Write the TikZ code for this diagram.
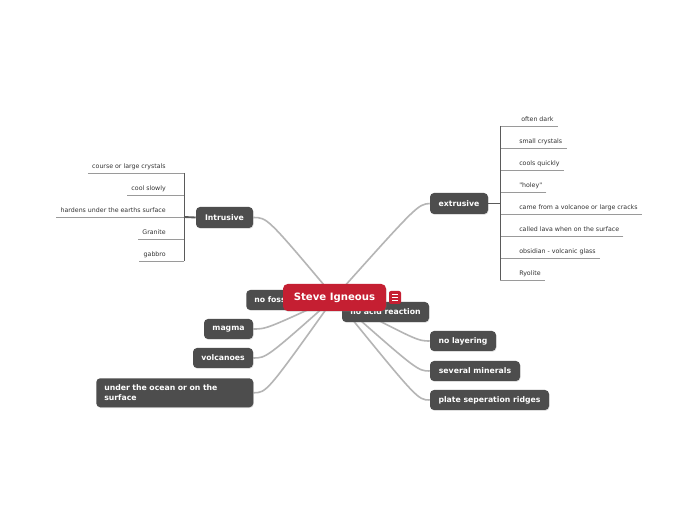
\documentclass[tikz,border=0pt]{standalone}
\usepackage{fontspec}
\newfontfamily\nf{DejaVu Sans}
\usetikzlibrary{calc,shadows}
\pgfdeclarelayer{background}
\pgfsetlayers{background,main}
\definecolor{nodegray}{HTML}{4D4D4D}
\definecolor{rootred}{HTML}{C51F32}
\definecolor{linegray}{HTML}{B5B5B5}
\definecolor{brkcol}{HTML}{5A5A5A}
\definecolor{ulcol}{HTML}{9A9A9A}
\definecolor{subtxt}{HTML}{333333}
\begin{document}
\begin{tikzpicture}[x=0.75pt,y=-0.75pt,
  topic/.style={fill=nodegray, rounded corners=3pt, text=white,
    font=\nf\bfseries\fontsize{5.8}{7.5}\selectfont, minimum height=15pt, inner sep=0pt,
    drop shadow={shadow xshift=0.4pt, shadow yshift=-0.6pt, opacity=0.25}},
  rootnode/.style={fill=rootred, rounded corners=3.5pt, text=white,
    font=\nf\bfseries\fontsize{7.6}{9}\selectfont, inner sep=0pt,
    drop shadow={shadow xshift=0.4pt, shadow yshift=-0.6pt, opacity=0.25}},
  iconbox/.style={fill=rootred, rounded corners=1.5pt, minimum width=9pt, minimum height=9.75pt, inner sep=0pt},
  subitem/.style={font=\nf\fontsize{4.7}{5.5}\selectfont, text=subtxt, text height=3.6pt, text depth=1pt, inner xsep=3pt, inner ysep=2pt},
  conn/.style={draw=linegray, line width=1.2pt},
  brk/.style={draw=brkcol, line width=0.75pt},
  brkthick/.style={draw=brkcol, line width=1.4pt},
  ul/.style={draw=ulcol, line width=0.6pt}
]
\begin{pgfonlayer}{background}
\fill[white] (0,0) rectangle (697,520);
\end{pgfonlayer}
\useasboundingbox (0,0) rectangle (697,520);

% main topic nodes
\node[topic, minimum width=42.75pt, minimum height=15.75pt] (intr) at (224.5,217.5) {Intrusive};
\node[topic, minimum width=43.5pt, minimum height=15.75pt] (extr) at (459,203.5) {extrusive};
\node[topic, minimum width=36.75pt] (magma) at (228.5,329) {magma};
\node[topic, minimum width=45pt] (volc) at (223,358) {volcanoes};
\node[topic, anchor=north west, text width=105.75pt, align=left, inner xsep=6pt, minimum height=21.75pt] (under) at (96,378) {under the ocean or on the\\surface};
\node[topic, minimum width=49.5pt] (nolay) at (463,341) {no layering};
\node[topic, minimum width=67.5pt] (sev) at (475,371) {several minerals};
\node[topic, minimum width=89.25pt] (plate) at (489.5,400) {plate seperation ridges};

% intrusive sub-items
\coordinate (bI) at (184,217);
\node[subitem, anchor=south east] (i1) at (170,173) {course or large crystals};
\node[subitem, anchor=south east] (i2) at (170,195) {cool slowly};
\node[subitem, anchor=south east] (i3) at (170,217) {hardens under the earths surface};
\node[subitem, anchor=south east] (i4) at (170,239) {Granite};
\node[subitem, anchor=south east] (i5) at (170,261) {gabbro};
\foreach \n in {i1,i2,i3,i4,i5} \draw[ul] (\n.south west) -- (\n.south west -| bI);
\draw[brk] (bI |- i1.south) -- (bI |- i5.south);
\draw[brkthick] (bI) -- (intr.west);

% extrusive sub-items
\coordinate (bE) at (500,203.5);
\node[subitem, anchor=south west] (e1) at (517,126) {often dark};
\node[subitem, anchor=south west] (e2) at (515,148) {small crystals};
\node[subitem, anchor=south west] (e3) at (515,170) {cools quickly};
\node[subitem, anchor=south west] (e4) at (515,192) {"holey"};
\node[subitem, anchor=south west] (e5) at (515,214) {came from a volcanoe or large cracks};
\node[subitem, anchor=south west] (e6) at (515,236) {called lava when on the surface};
\node[subitem, anchor=south west] (e7) at (515,258) {obsidian - volcanic glass};
\node[subitem, anchor=south west] (e8) at (515,280) {Ryolite};
\foreach \n in {e1,e2,e3,e4,e5,e6,e7,e8} \draw[ul] (\n.south east) -- (\n.south east -| bE);
\draw[brk] (bE |- e1.south) -- (bE |- e8.south);
\draw[brkthick] (extr.east) -- (bE);

% nodes partly hidden by the central topic
\node[topic, anchor=west, inner xsep=6pt, minimum height=15pt] (nofos) at (246,300) {no fossils};
\node[topic, minimum width=65.25pt] (noacid) at (385.5,312) {no acid reaction};

% central topic
\node[rootnode, minimum width=77.25pt, minimum height=20.25pt] (root) at (334.5,297.5) {Steve Igneous};
\node[iconbox] (menu) at (395,297.5) {};
\foreach \dy in {-3,0,3}
  \draw[white, line width=0.6pt] ($(menu.center)+(-3,\dy)$) -- ++(6,0);

% connectors, behind the nodes
\begin{pgfonlayer}{background}
\draw[conn] (root.center) .. controls ($(intr.east)+(14,0)$) .. (intr.east);
\draw[conn] (root.center) .. controls ($(extr.west)+(-12,1)$) .. (extr.west);
\draw[conn] (root.center) .. controls ($(magma.east)+(13,0)$) .. (magma.east);
\draw[conn] (root.center) .. controls ($(volc.east)+(13,0)$) .. (volc.east);
\draw[conn] (root.center) .. controls ($(under.east)+(13,0)$) .. (under.east);
\draw[conn] (root.center) .. controls ($(nolay.west)+(-12,0)$) .. (nolay.west);
\draw[conn] (root.center) .. controls ($(sev.west)+(-12,0)$) .. (sev.west);
\draw[conn] (root.center) .. controls ($(plate.west)+(-12,0)$) .. (plate.west);
\end{pgfonlayer}
\end{tikzpicture}
\end{document}
